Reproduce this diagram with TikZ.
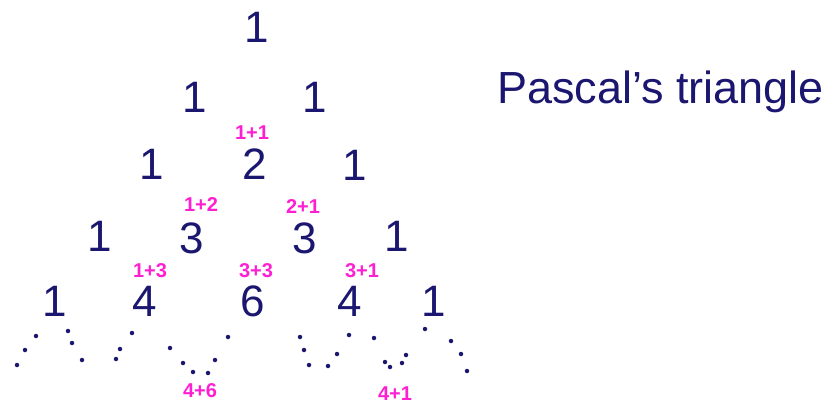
\documentclass[tikz,border=0pt]{standalone}
\usepackage{fontspec}
\setmainfont{Liberation Sans}
\definecolor{ink}{HTML}{1B1670}
\definecolor{pink}{HTML}{FF1FD2}
\begin{document}
\begin{tikzpicture}[x=1pt,y=-1pt,
  num/.style={text=ink,font=\fontsize{44}{44}\selectfont,inner sep=0pt},
  sumlbl/.style={text=pink,font=\bfseries\fontsize{20}{20}\selectfont,inner sep=0pt},
  dot/.style={circle,fill=ink,inner sep=0pt,minimum size=4.5pt}]
\useasboundingbox (0,0) rectangle (829,407);
% row 0
\node[num] (r0a) at (257,27) {1};
% row 1
\node[num] (r1a) at (195,97) {1};
\node[num] (r1b) at (315,97) {1};
% row 2
\node[num] (r2a) at (152,164) {1};
\node[num] (r2b) at (255,164) {2};
\node[num] (r2c) at (355,165) {1};
% row 3
\node[num] (r3a) at (100,236) {1};
\node[num] (r3b) at (192,238) {3};
\node[num] (r3c) at (305,238) {3};
\node[num] (r3d) at (397,236) {1};
% row 4
\node[num] (r4a) at (55,301) {1};
\node[num] (r4b) at (145,301) {4};
\node[num] (r4c) at (253,301) {6};
\node[num] (r4d) at (350,301) {4};
\node[num] (r4e) at (434,301) {1};
% sums
\node[sumlbl] (s1) at (252,133) {1+1};
\node[sumlbl] (s2) at (201,205) {1+2};
\node[sumlbl] (s3) at (303,207) {2+1};
\node[sumlbl] (s4) at (150,271) {1+3};
\node[sumlbl] (s5) at (256,271) {3+3};
\node[sumlbl] (s6) at (362,271) {3+1};
\node[sumlbl] (s7) at (200,391) {4+6};
\node[sumlbl] (s8) at (395,394) {4+1};
% title
\node[text=ink,font=\fontsize{45}{45}\selectfont,inner sep=0pt,anchor=west] (title) at (497,92) {Pascal's triangle};
% dots
\foreach \x/\y [count=\i] in {17/365,25/350,36/336,68/331,72/343,82/360,
  116/359,120/349,132/333,170/348,183/363,193/372,208/373,215/360,228/337,
  300/337,304/350,309/365,328/366,337/354,349/335,374/338,385/362,390/367,
  402/363,406/355,425/329,451/341,461/354,467/371}
  \node[dot] (d\i) at (\x,\y) {};
\end{tikzpicture}
\end{document}
